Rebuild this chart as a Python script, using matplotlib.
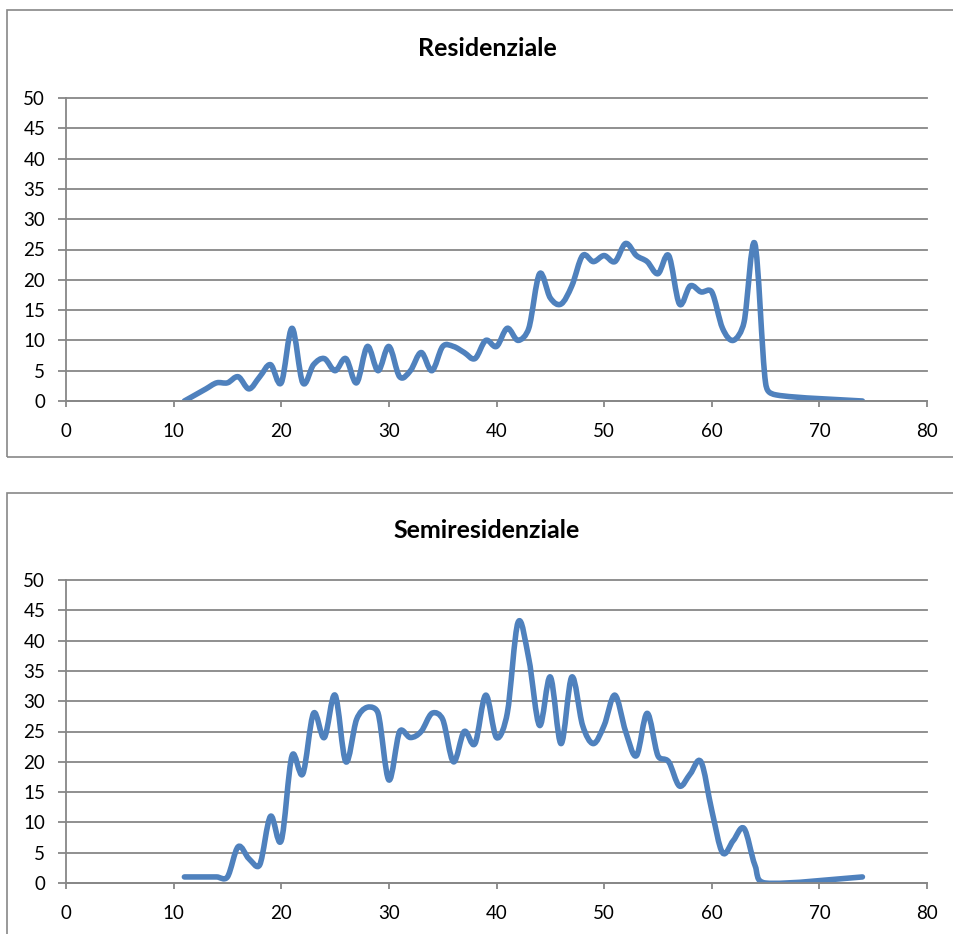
import matplotlib.pyplot as plt
from matplotlib.path import Path
from matplotlib.patches import PathPatch, Rectangle
import numpy as np

plt.rcParams['font.family'] = ['Lato', 'DejaVu Sans']

# Residenziale
res_x = list(range(11, 67)) + [74]
res_y = [0, 1, 2, 3, 3, 4, 2, 4, 6, 3,
         12, 3, 6, 7, 5, 7, 3, 9, 5, 9,
         4, 5, 8, 5, 9, 9, 8, 7, 10, 9,
         12, 10, 12, 21, 17, 16, 19, 24, 23, 24,
         23, 26, 24, 23, 21, 24, 16, 19, 18, 18,
         12, 10, 13, 26, 3, 1, 0]

# Semiresidenziale
semi_x = list(range(11, 66)) + [74]
semi_y = [1, 1, 1, 1, 1, 6, 4, 3, 11, 7,
          21, 18, 28, 24, 31, 20, 27, 29, 28, 17,
          25, 24, 25, 28, 27, 20, 25, 23, 31, 24,
          28, 43, 37, 26, 34, 23, 34, 26, 23, 26,
          31, 25, 21, 28, 21, 20, 16, 18, 20, 12,
          5, 7, 9, 3, 0, 1]

titles = ['Residenziale', 'Semiresidenziale']
x_ticks = list(range(0, 81, 10))
y_ticks = list(range(0, 51, 5))

W, H = 954, 934
grey = '#878787'
blue = '#4F81BD'


def smooth_path(x, y, sx, sy):
    # bezier smoothing as in spreadsheet line charts: handles of 1/6 of the
    # neighbour chord, cut down to half the segment when that is shorter
    pts = np.column_stack([x, y]).astype(float)
    scale = np.array([sx, sy])
    n = len(pts)

    def dist(a, b):
        return np.hypot(*((a - b) * scale))

    verts = [pts[0]]
    codes = [Path.MOVETO]
    for i in range(n - 1):
        p0 = pts[i - 1] if i > 0 else pts[i]
        p1 = pts[i]
        p2 = pts[i + 1]
        p3 = pts[i + 2] if i + 2 < n else pts[i + 1]
        d12 = dist(p1, p2)
        d02 = dist(p0, p2)
        d13 = dist(p1, p3)
        if d02 / 6 < d12 / 2 or d02 == 0:
            c1 = p1 + (p2 - p0) / 6
        else:
            c1 = p1 + (p2 - p0) * d12 / (2 * d02)
        if d13 / 6 < d12 / 2 or d13 == 0:
            c2 = p2 - (p3 - p1) / 6
        else:
            c2 = p2 - (p3 - p1) * d12 / (2 * d13)
        verts += [c1, c2, p2]
        codes += [Path.CURVE4] * 3
    return Path(verts, codes)


fig = plt.figure(figsize=(W / 100, H / 100), dpi=100)

# (box top, box bottom, axis y of 0, axis y of 50, title y) in pixels
layout = [(10, 457, 401, 98, 48), (493, 1100, 883, 580, 530)]
series = [(res_x, res_y), (semi_x, semi_y)]

for (top, bot, y0, y50, ty), (xs, ys), title in zip(layout, series, titles):
    fig.patches.append(Rectangle((7 / W, 1 - bot / H), 2, (bot - top) / H,
                                 transform=fig.transFigure, fill=False,
                                 edgecolor=grey, lw=1.2))
    ax = fig.add_axes([66 / W, 1 - y0 / H, 861 / W, (y0 - y50) / H])
    ax.set_xlim(0, 80)
    ax.set_ylim(0, 50)
    ax.set_xticks(x_ticks)
    ax.set_yticks(y_ticks)
    ax.grid(axis='y', color=grey, lw=1.3)
    for gl in ax.get_ygridlines():
        gl.set_clip_on(False)
    ax.set_axisbelow(True)
    for s in ['top', 'right']:
        ax.spines[s].set_visible(False)
    for s in ['left', 'bottom']:
        ax.spines[s].set_color(grey)
        ax.spines[s].set_linewidth(1.3)
    ax.tick_params(axis='y', direction='out', length=6, width=1.3, color=grey,
                   labelsize=13.5, pad=9)
    ax.tick_params(axis='x', direction='out', length=4.5, width=1.3, color=grey,
                   labelsize=13.5, pad=11)
    path = smooth_path(xs, ys, 861 / 80, (y0 - y50) / 50)
    ax.add_patch(PathPatch(path, facecolor='none', edgecolor=blue,
                           lw=4, capstyle='round', joinstyle='round'))
    fig.text(487 / W, 1 - ty / H, title, ha='center', va='center',
             fontsize=18, fontweight='bold')

fig.savefig('out.png', dpi=100)
